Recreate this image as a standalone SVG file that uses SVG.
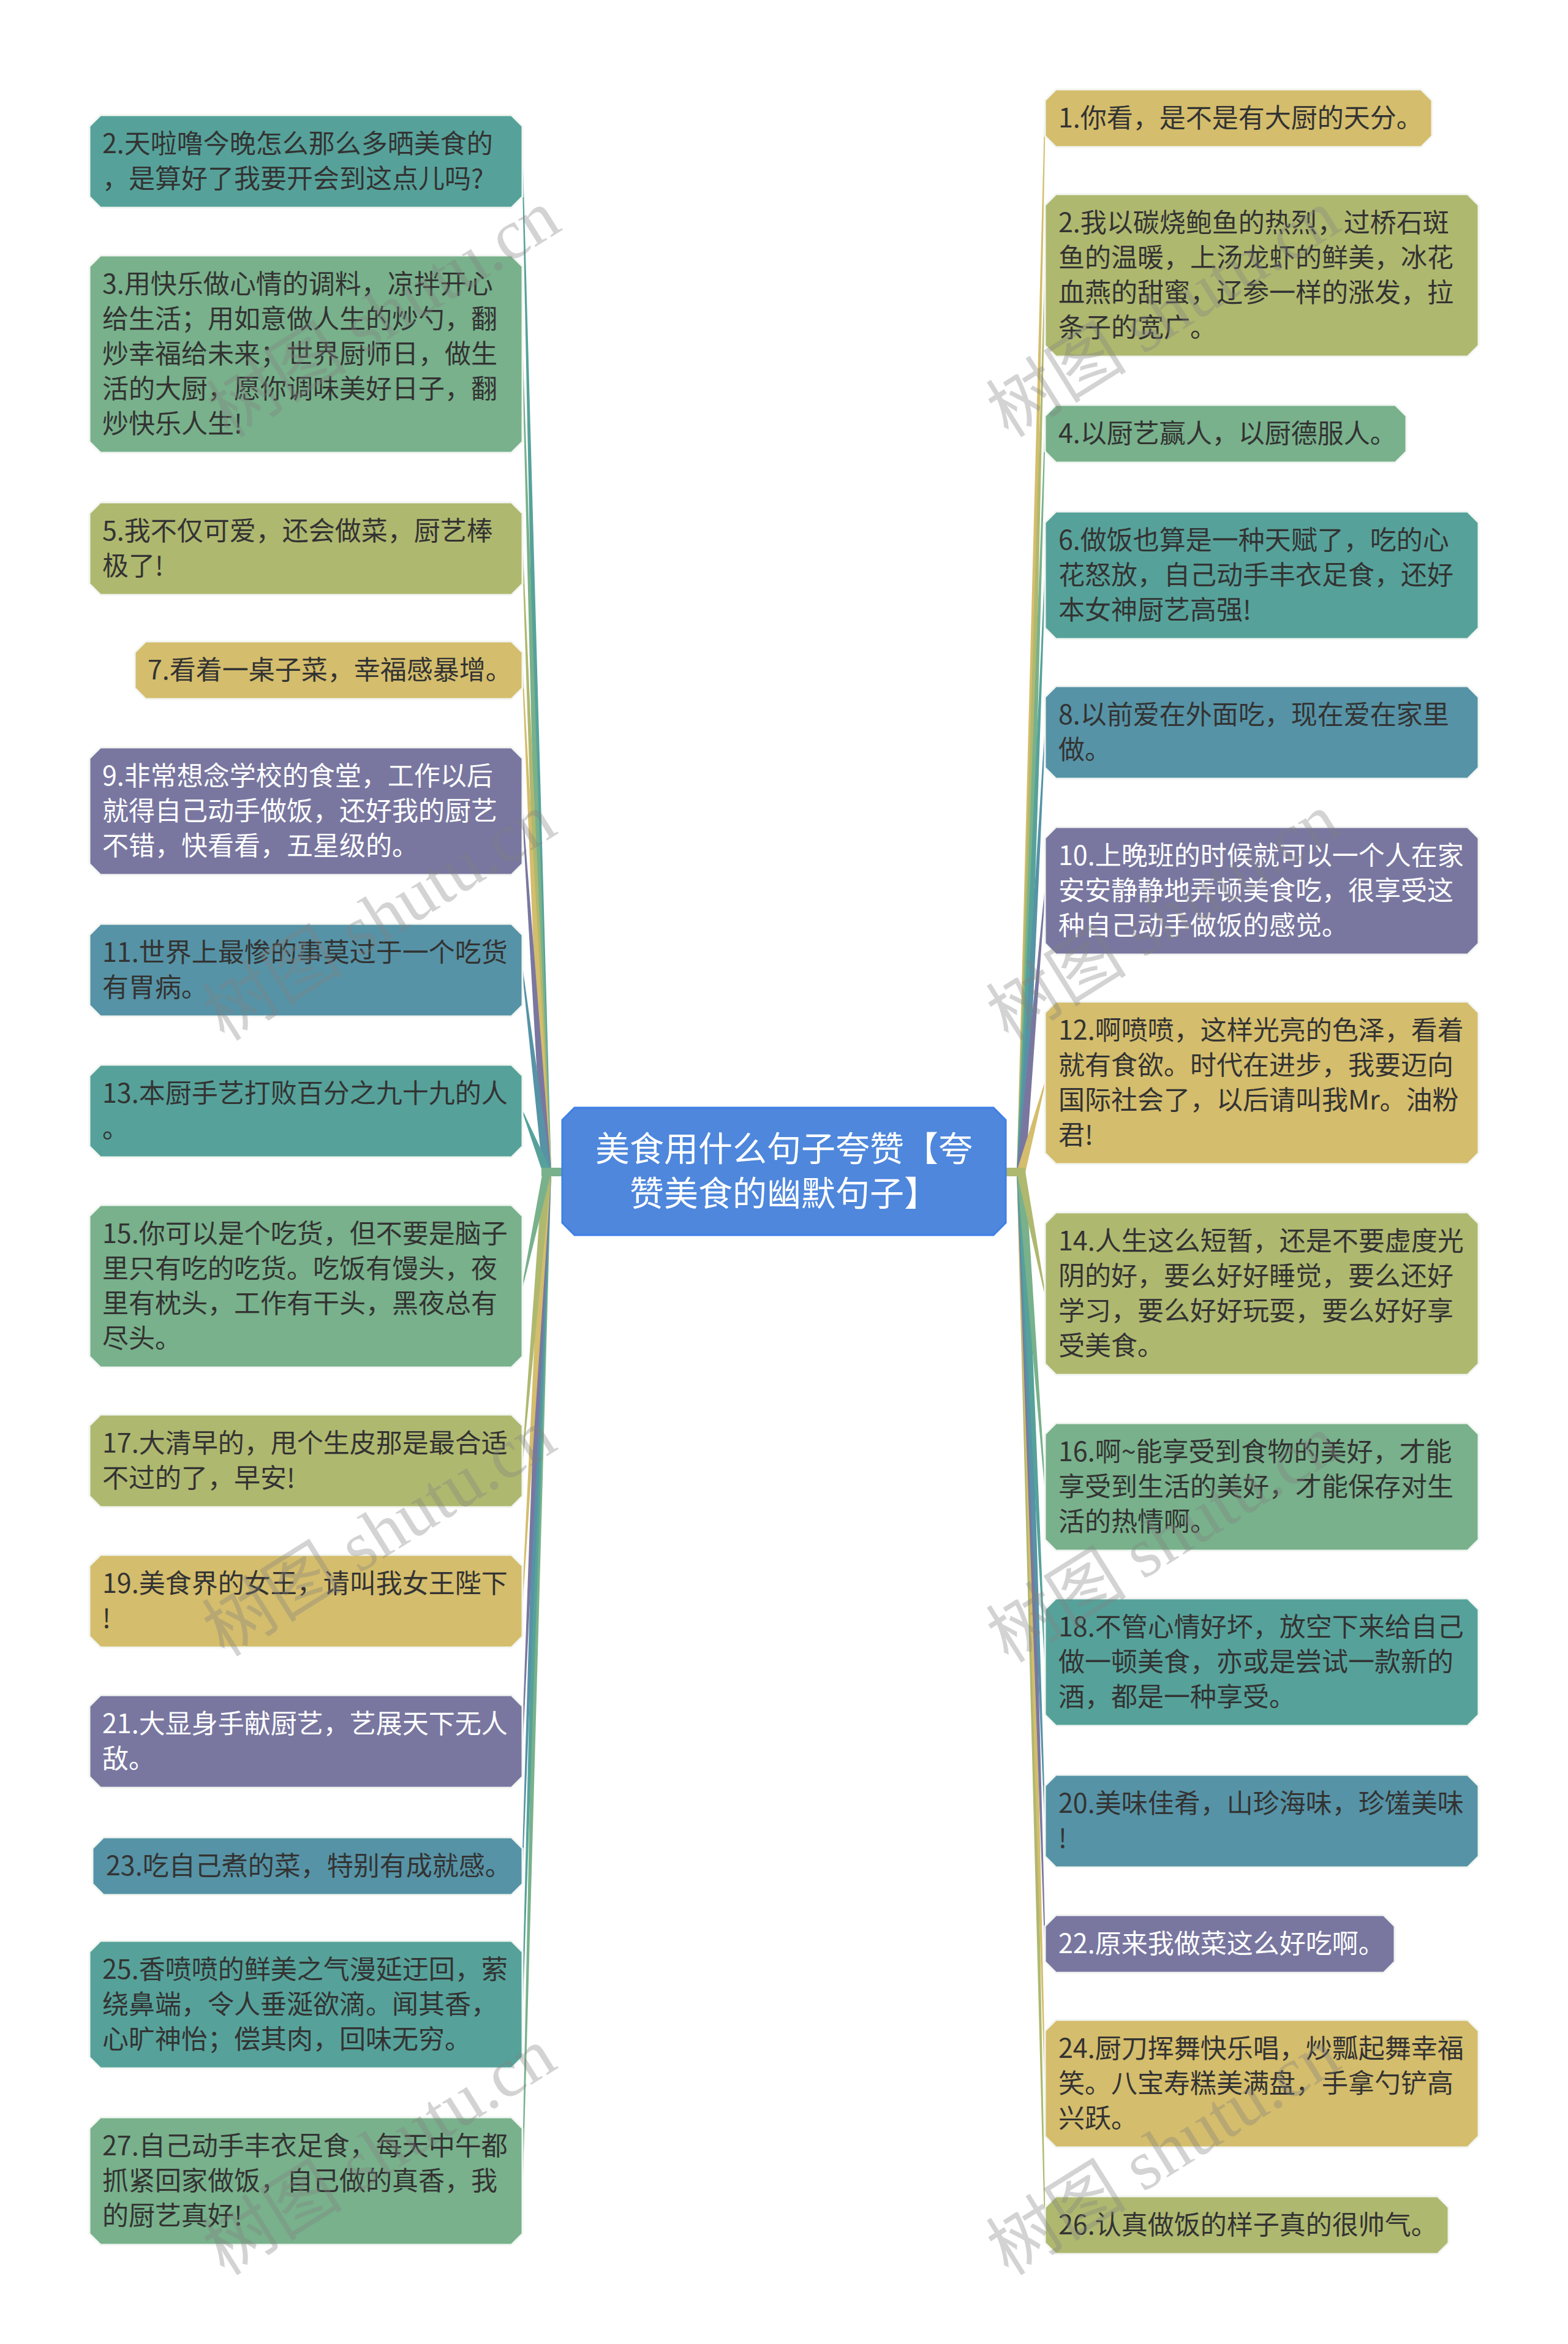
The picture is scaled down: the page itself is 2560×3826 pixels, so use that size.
<svg xmlns="http://www.w3.org/2000/svg" width="2560" height="3826" viewBox="0 0 2560 3826">
<style>
.t{font-family:"Noto Sans CJK SC","Noto Sans",sans-serif;font-size:43px;fill:#333333}
.w{fill:#ffffff}
.box{stroke:#f2f6f2;stroke-width:3}
.teal{fill:#56a29a}.green{fill:#78b18b}.olive{fill:#afb86f}.gold{fill:#d4bd6c}.purple{fill:#7977a0}.bt{fill:#5693a6}
.ct{font-family:"Noto Sans CJK SC","Noto Sans",sans-serif;font-size:56px;fill:#ffffff;text-anchor:middle}
.wm{font-family:"Liberation Serif","Noto Sans CJK SC",serif;font-size:115px;fill:#808080;fill-opacity:0.35;text-anchor:middle}
</style>
<rect width="2560" height="3826" fill="#ffffff"/>
<g id="connectors">
<polygon class="teal" points="886,1913 852.2,263.5 853.8,263.5 900,1913"/>
<polygon class="green" points="886,1913 852.2,3560 853.8,3560 900,1913"/>
<polygon class="green" points="886,1913 852.2,578 853.8,578 900,1913"/>
<polygon class="teal" points="886,1913 852.2,3272 853.8,3272 900,1913"/>
<polygon class="olive" points="886,1913 852.2,895.5 853.8,895.5 900,1913"/>
<polygon class="bt" points="886,1913 852.2,3046 853.8,3046 900,1913"/>
<polygon class="gold" points="886,1913 852.2,1094 853.8,1094 900,1913"/>
<polygon class="purple" points="886,1913 852.2,2842.5 853.8,2842.5 900,1913"/>
<polygon class="purple" points="886,1913 852.2,1324 853.8,1324 900,1913"/>
<polygon class="gold" points="886,1913 852.2,2613.5 853.8,2613.5 900,1913"/>
<polygon class="bt" points="899.9,1912.2 853.8,1583.4 852.2,1583.6 886.1,1913.8"/>
<polygon class="olive" points="886,1913 852.2,2384.5 853.8,2384.5 900,1913"/>
<polygon class="teal" points="899.5,1910.4 853.7,1813.2 852.3,1813.8 886.5,1915.6"/>
<polygon class="green" points="886.2,1911.5 852.2,2099.3 853.8,2099.7 899.8,1914.5"/>
<rect class="green" x="884" y="1906" width="36" height="14"/>
<polygon class="gold" points="1660,1913 1705.2,193 1706.8,193 1674,1913"/>
<polygon class="olive" points="1660,1913 1705.2,3632 1706.8,3632 1674,1913"/>
<polygon class="olive" points="1660,1913 1705.2,449.5 1706.8,449.5 1674,1913"/>
<polygon class="gold" points="1660,1913 1705.2,3401 1706.8,3401 1674,1913"/>
<polygon class="green" points="1660,1913 1705.2,708 1706.8,708 1674,1913"/>
<polygon class="purple" points="1660,1913 1705.2,3173 1706.8,3173 1674,1913"/>
<polygon class="teal" points="1660,1913 1705.2,939 1706.8,939 1674,1913"/>
<polygon class="bt" points="1660,1913 1705.2,2972.5 1706.8,2972.5 1674,1913"/>
<polygon class="bt" points="1660,1913 1705.2,1195.5 1706.8,1195.5 1674,1913"/>
<polygon class="teal" points="1660,1913 1705.2,2713 1706.8,2713 1674,1913"/>
<polygon class="purple" points="1660,1913 1705.2,1454 1706.8,1454 1674,1913"/>
<polygon class="green" points="1660,1913 1705.2,2427 1706.8,2427 1674,1913"/>
<polygon class="gold" points="1673.8,1914.8 1706.8,1767.7 1705.2,1767.3 1660.2,1911.2"/>
<polygon class="olive" points="1660.1,1914.3 1705.2,2111.7 1706.8,2111.3 1673.9,1911.7"/>
<rect class="olive" x="1640" y="1906" width="34" height="14"/>
</g>
<g id="center">
<polygon points="938,1808 1622,1808 1642,1828 1642,1996 1622,2016 938,2016 918,1996 918,1828" fill="#4e87dc" stroke="#3f7fe6" stroke-width="3"/>
<text class="ct"><tspan x="1280" y="1895">美食用什么句子夸赞【夸</tspan><tspan x="1280" y="1968">赞美食的幽默句子】</tspan></text>
</g>
<g id="n-l2"><polygon class="box teal" points="164,188 835,188 853,206 853,321 835,339 164,339 146,321 146,206"/>
<text class="t"><tspan x="167" y="250">2.天啦噜今晚怎么那么多晒美食的</tspan><tspan x="167" y="307">，是算好了我要开会到这点儿吗?</tspan></text></g>
<g id="n-l3"><polygon class="box green" points="164,417 835,417 853,435 853,721 835,739 164,739 146,721 146,435"/>
<text class="t"><tspan x="167" y="479">3.用快乐做心情的调料，凉拌开心</tspan><tspan x="167" y="536">给生活；用如意做人生的炒勺，翻</tspan><tspan x="167" y="593">炒幸福给未来；世界厨师日，做生</tspan><tspan x="167" y="650">活的大厨，愿你调味美好日子，翻</tspan><tspan x="167" y="707">炒快乐人生!</tspan></text></g>
<g id="n-l5"><polygon class="box olive" points="164,820 835,820 853,838 853,953 835,971 164,971 146,953 146,838"/>
<text class="t"><tspan x="167" y="882">5.我不仅可爱，还会做菜，厨艺棒</tspan><tspan x="167" y="939">极了!</tspan></text></g>
<g id="n-l7"><polygon class="box gold" points="238,1047 835,1047 853,1065 853,1123 835,1141 238,1141 220,1123 220,1065"/>
<text class="t" x="241" y="1109">7.看着一桌子菜，幸福感暴增。</text></g>
<g id="n-l9"><polygon class="box purple" points="164,1220 835,1220 853,1238 853,1410 835,1428 164,1428 146,1410 146,1238"/>
<text class="t w"><tspan x="167" y="1282">9.非常想念学校的食堂，工作以后</tspan><tspan x="167" y="1339">就得自己动手做饭，还好我的厨艺</tspan><tspan x="167" y="1396">不错，快看看，五星级的。</tspan></text></g>
<g id="n-l11"><polygon class="box bt" points="164,1508 835,1508 853,1526 853,1641 835,1659 164,1659 146,1641 146,1526"/>
<text class="t"><tspan x="167" y="1570">11.世界上最惨的事莫过于一个吃货</tspan><tspan x="167" y="1627">有胃病。</tspan></text></g>
<g id="n-l13"><polygon class="box teal" points="164,1738 835,1738 853,1756 853,1871 835,1889 164,1889 146,1871 146,1756"/>
<text class="t"><tspan x="167" y="1800">13.本厨手艺打败百分之九十九的人</tspan><tspan x="167" y="1857">。</tspan></text></g>
<g id="n-l15"><polygon class="box green" points="164,1967 835,1967 853,1985 853,2214 835,2232 164,2232 146,2214 146,1985"/>
<text class="t"><tspan x="167" y="2029">15.你可以是个吃货，但不要是脑子</tspan><tspan x="167" y="2086">里只有吃的吃货。吃饭有馒头，夜</tspan><tspan x="167" y="2143">里有枕头，工作有干头，黑夜总有</tspan><tspan x="167" y="2200">尽头。</tspan></text></g>
<g id="n-l17"><polygon class="box olive" points="164,2309 835,2309 853,2327 853,2442 835,2460 164,2460 146,2442 146,2327"/>
<text class="t"><tspan x="167" y="2371">17.大清早的，甩个生皮那是最合适</tspan><tspan x="167" y="2428">不过的了，早安!</tspan></text></g>
<g id="n-l19"><polygon class="box gold" points="164,2538 835,2538 853,2556 853,2671 835,2689 164,2689 146,2671 146,2556"/>
<text class="t"><tspan x="167" y="2600">19.美食界的女王，请叫我女王陛下</tspan><tspan x="167" y="2657">!</tspan></text></g>
<g id="n-l21"><polygon class="box purple" points="164,2767 835,2767 853,2785 853,2900 835,2918 164,2918 146,2900 146,2785"/>
<text class="t w"><tspan x="167" y="2829">21.大显身手献厨艺，艺展天下无人</tspan><tspan x="167" y="2886">敌。</tspan></text></g>
<g id="n-l23"><polygon class="box bt" points="169,2999 835,2999 853,3017 853,3075 835,3093 169,3093 151,3075 151,3017"/>
<text class="t" x="173" y="3061">23.吃自己煮的菜，特别有成就感。</text></g>
<g id="n-l25"><polygon class="box teal" points="164,3168 835,3168 853,3186 853,3358 835,3376 164,3376 146,3358 146,3186"/>
<text class="t"><tspan x="167" y="3230">25.香喷喷的鲜美之气漫延迂回，萦</tspan><tspan x="167" y="3287">绕鼻端，令人垂涎欲滴。闻其香，</tspan><tspan x="167" y="3344">心旷神怡；偿其肉，回味无穷。</tspan></text></g>
<g id="n-l27"><polygon class="box green" points="164,3456 835,3456 853,3474 853,3646 835,3664 164,3664 146,3646 146,3474"/>
<text class="t"><tspan x="167" y="3518">27.自己动手丰衣足食，每天中午都</tspan><tspan x="167" y="3575">抓紧回家做饭，自己做的真香，我</tspan><tspan x="167" y="3632">的厨艺真好!</tspan></text></g>
<g id="n-r1"><polygon class="box gold" points="1724,146 2320,146 2338,164 2338,222 2320,240 1724,240 1706,222 1706,164"/>
<text class="t" x="1728" y="208">1.你看，是不是有大厨的天分。</text></g>
<g id="n-r2"><polygon class="box olive" points="1724,317 2396,317 2414,335 2414,564 2396,582 1724,582 1706,564 1706,335"/>
<text class="t"><tspan x="1728" y="379">2.我以碳烧鲍鱼的热烈，过桥石斑</tspan><tspan x="1728" y="436">鱼的温暖，上汤龙虾的鲜美，冰花</tspan><tspan x="1728" y="493">血燕的甜蜜，辽参一样的涨发，拉</tspan><tspan x="1728" y="550">条子的宽广。</tspan></text></g>
<g id="n-r4"><polygon class="box green" points="1724,661 2278,661 2296,679 2296,737 2278,755 1724,755 1706,737 1706,679"/>
<text class="t" x="1728" y="723">4.以厨艺赢人，以厨德服人。</text></g>
<g id="n-r6"><polygon class="box teal" points="1724,835 2396,835 2414,853 2414,1025 2396,1043 1724,1043 1706,1025 1706,853"/>
<text class="t"><tspan x="1728" y="897">6.做饭也算是一种天赋了，吃的心</tspan><tspan x="1728" y="954">花怒放，自己动手丰衣足食，还好</tspan><tspan x="1728" y="1011">本女神厨艺高强!</tspan></text></g>
<g id="n-r8"><polygon class="box bt" points="1724,1120 2396,1120 2414,1138 2414,1253 2396,1271 1724,1271 1706,1253 1706,1138"/>
<text class="t"><tspan x="1728" y="1182">8.以前爱在外面吃，现在爱在家里</tspan><tspan x="1728" y="1239">做。</tspan></text></g>
<g id="n-r10"><polygon class="box purple" points="1724,1350 2396,1350 2414,1368 2414,1540 2396,1558 1724,1558 1706,1540 1706,1368"/>
<text class="t w"><tspan x="1728" y="1412">10.上晚班的时候就可以一个人在家</tspan><tspan x="1728" y="1469">安安静静地弄顿美食吃，很享受这</tspan><tspan x="1728" y="1526">种自己动手做饭的感觉。</tspan></text></g>
<g id="n-r12"><polygon class="box gold" points="1724,1635 2396,1635 2414,1653 2414,1882 2396,1900 1724,1900 1706,1882 1706,1653"/>
<text class="t"><tspan x="1728" y="1697">12.啊喷喷，这样光亮的色泽，看着</tspan><tspan x="1728" y="1754">就有食欲。时代在进步，我要迈向</tspan><tspan x="1728" y="1811">国际社会了，以后请叫我Mr。油粉</tspan><tspan x="1728" y="1868">君!</tspan></text></g>
<g id="n-r14"><polygon class="box olive" points="1724,1979 2396,1979 2414,1997 2414,2226 2396,2244 1724,2244 1706,2226 1706,1997"/>
<text class="t"><tspan x="1728" y="2041">14.人生这么短暂，还是不要虚度光</tspan><tspan x="1728" y="2098">阴的好，要么好好睡觉，要么还好</tspan><tspan x="1728" y="2155">学习，要么好好玩耍，要么好好享</tspan><tspan x="1728" y="2212">受美食。</tspan></text></g>
<g id="n-r16"><polygon class="box green" points="1724,2323 2396,2323 2414,2341 2414,2513 2396,2531 1724,2531 1706,2513 1706,2341"/>
<text class="t"><tspan x="1728" y="2385">16.啊~能享受到食物的美好，才能</tspan><tspan x="1728" y="2442">享受到生活的美好，才能保存对生</tspan><tspan x="1728" y="2499">活的热情啊。</tspan></text></g>
<g id="n-r18"><polygon class="box teal" points="1724,2609 2396,2609 2414,2627 2414,2799 2396,2817 1724,2817 1706,2799 1706,2627"/>
<text class="t"><tspan x="1728" y="2671">18.不管心情好坏，放空下来给自己</tspan><tspan x="1728" y="2728">做一顿美食，亦或是尝试一款新的</tspan><tspan x="1728" y="2785">酒，都是一种享受。</tspan></text></g>
<g id="n-r20"><polygon class="box bt" points="1724,2897 2396,2897 2414,2915 2414,3030 2396,3048 1724,3048 1706,3030 1706,2915"/>
<text class="t"><tspan x="1728" y="2959">20.美味佳肴，山珍海味，珍馐美味</tspan><tspan x="1728" y="3016">!</tspan></text></g>
<g id="n-r22"><polygon class="box purple" points="1724,3126 2259,3126 2277,3144 2277,3202 2259,3220 1724,3220 1706,3202 1706,3144"/>
<text class="t w" x="1728" y="3188">22.原来我做菜这么好吃啊。</text></g>
<g id="n-r24"><polygon class="box gold" points="1724,3297 2396,3297 2414,3315 2414,3487 2396,3505 1724,3505 1706,3487 1706,3315"/>
<text class="t"><tspan x="1728" y="3359">24.厨刀挥舞快乐唱，炒瓢起舞幸福</tspan><tspan x="1728" y="3416">笑。八宝寿糕美满盘，手拿勺铲高</tspan><tspan x="1728" y="3473">兴跃。</tspan></text></g>
<g id="n-r26"><polygon class="box olive" points="1724,3585 2347,3585 2365,3603 2365,3661 2347,3679 1724,3679 1706,3661 1706,3603"/>
<text class="t" x="1728" y="3647">26.认真做饭的样子真的很帅气。</text></g>
<g id="watermarks">
<text class="wm" transform="translate(647,545) rotate(-32)">树图 shutu.cn</text>
<text class="wm" transform="translate(640,1530) rotate(-32)">树图 shutu.cn</text>
<text class="wm" transform="translate(640,2535) rotate(-32)">树图 shutu.cn</text>
<text class="wm" transform="translate(640,3545) rotate(-32)">树图 shutu.cn</text>
<text class="wm" transform="translate(1920,545) rotate(-32)">树图 shutu.cn</text>
<text class="wm" transform="translate(1920,1530) rotate(-32)">树图 shutu.cn</text>
<text class="wm" transform="translate(1920,2545) rotate(-32)">树图 shutu.cn</text>
<text class="wm" transform="translate(1920,3545) rotate(-32)">树图 shutu.cn</text>
</g>
</svg>
